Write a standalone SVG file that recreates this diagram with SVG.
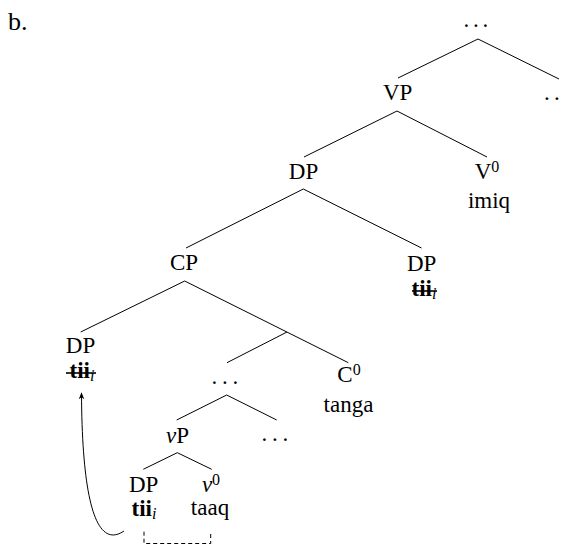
<svg xmlns="http://www.w3.org/2000/svg" width="564" height="545" viewBox="0 0 564 545">
<style>
text{font-family:"Liberation Serif","Times New Roman",serif;font-size:23px;fill:#000}
.m{text-anchor:middle}
.sup{font-size:16px}
.sub{font-size:16px;font-style:italic}
.b{font-weight:bold}
.it{font-style:italic}
.edge{stroke:#000;stroke-width:1;fill:none}
.strike{stroke:#000;stroke-width:1.6}
</style>
<defs>
<marker id="ah" viewBox="0 0 10 10" refX="9" refY="5" markerWidth="7" markerHeight="7" orient="auto" markerUnits="userSpaceOnUse">
<path d="M0,1 L10,5 L0,9 L3,5 Z" fill="#000"/>
</marker>
</defs>
<text x="8" y="30" style="font-size:26px">b.</text>
<g id="connectors">
<path class="edge" d="M478,39 L398,78 M478,39 L559,79"/>
<path class="edge" d="M397,111 L304,157 M397,111 L487,157"/>
<path class="edge" d="M303.3,189 L186,248 M303.3,189 L421.5,248"/>
<path class="edge" d="M184.7,281 L80.7,332 M184.7,281 L348.3,362.7 M287,332 L227,362.7"/>
<path class="edge" d="M226.7,395 L176.7,420 M226.7,395 L276.7,420"/>
<path class="edge" d="M177.3,452.7 L143.3,469.3 M177.3,452.7 L211.7,469.3"/>
<path class="edge" d="M124,531 C96,550 82,500 81.5,393" marker-end="url(#ah)"/>
<path class="edge" d="M144,531.7 V543.5 H210.7 V531.7" stroke-dasharray="4,3"/>
</g>
<g id="n-top"><text x="463.6 473.1 482.6" y="27">...</text></g>
<g id="n-VP"><text class="m" x="397.7" y="100">VP</text></g>
<g id="n-topright"><text x="544.1 554.1" y="100">..</text></g>
<g id="n-DP1"><text class="m" x="303.5" y="179">DP</text></g>
<g id="n-V0"><text class="m" x="487" y="179">V<tspan class="sup" dy="-7">0</tspan></text><text class="m" x="489" y="208">imiq</text></g>
<g id="n-CP"><text class="m" x="184" y="270">CP</text></g>
<g id="n-DP2"><text class="m" x="421.7" y="270.7">DP</text><text class="m" x="424" y="296"><tspan class="b">tii</tspan><tspan class="sub" dy="3">i</tspan></text><line class="strike" x1="412" y1="291" x2="437" y2="291"/></g>
<g id="n-DP3"><text class="m" x="80.5" y="353">DP</text><text class="m" x="82" y="378"><tspan class="b">tii</tspan><tspan class="sub" dy="3">i</tspan></text><line class="strike" x1="66" y1="373" x2="96" y2="373"/></g>
<g id="n-mid"><text x="211.6 222.1 232.6" y="384">...</text></g>
<g id="n-C0"><text class="m" x="349" y="382">C<tspan class="sup" dy="-7">0</tspan></text><text class="m" x="348.5" y="412">tanga</text></g>
<g id="n-vP"><text class="m" x="177.5" y="443"><tspan class="it">v</tspan>P</text></g>
<g id="n-dots2"><text x="261.6 272.1 282.6" y="441">...</text></g>
<g id="n-DP4"><text class="m" x="143.7" y="491.7">DP</text><text class="m" x="144" y="516"><tspan class="b">tii</tspan><tspan class="sub" dy="3">i</tspan></text></g>
<g id="n-v0"><text class="m" x="211" y="491.7"><tspan class="it">v</tspan><tspan class="sup" dy="-7">0</tspan></text><text class="m" x="210" y="515">taaq</text></g>
</svg>
